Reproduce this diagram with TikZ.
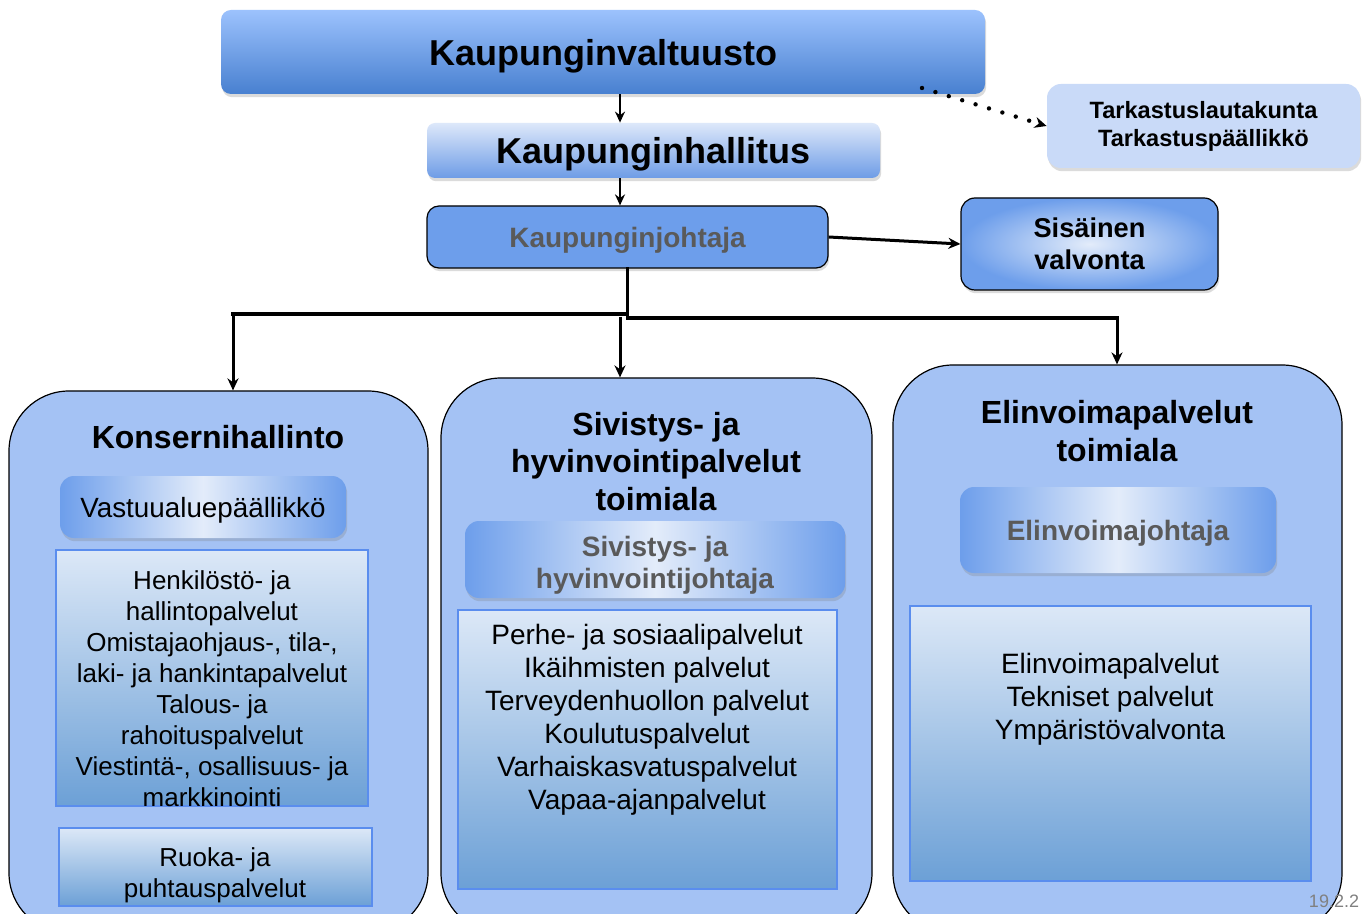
\documentclass[tikz,border=0pt]{standalone}
\usepackage{fontspec}
\setmainfont{Liberation Sans}
\usetikzlibrary{arrows.meta,shadows}
\definecolor{bigfill}{HTML}{A4C2F4}
\definecolor{corn}{HTML}{6D9EEB}
\definecolor{paleblue}{HTML}{E3ECFA}
\definecolor{listtop}{HTML}{DCE8F7}
\definecolor{listbot}{HTML}{6CA0D6}
\definecolor{listedge}{HTML}{5A8DEE}
\definecolor{kvtop}{HTML}{9CC2FD}
\definecolor{kvbot}{HTML}{4880D0}
\definecolor{khtop}{HTML}{DDE8FA}
\definecolor{khbot}{HTML}{6E9CE6}
\definecolor{tkfill}{HTML}{C9DAF8}
\definecolor{graytext}{HTML}{5A5A5A}
\begin{document}
\begin{tikzpicture}[x=0.5pt,y=-0.5pt,
  shad/.style={drop shadow={shadow xshift=0.6pt,shadow yshift=-1.6pt,opacity=0.28}},
  box/.style={inner sep=0pt,align=center},
  bigbox/.style={box,draw=black,line width=0.6pt,fill=bigfill,rounded corners=30pt},
  subbox/.style={box,rounded corners=7pt,left color=corn,right color=corn,middle color=paleblue,shad},
  listbox/.style={box,draw=listedge,line width=0.6pt,top color=listtop,bottom color=listbot},
  conn/.style={line width=1.7pt,line cap=rect},
  arr/.style={line width=1.5pt,-{Stealth[length=6pt,width=5.5pt]}},
  thinarr/.style={line width=1.2pt,-{Stealth[length=5.5pt,width=5pt]}},
  titlefont/.style={font=\bfseries\fontsize{16}{18.75}\selectfont},
  dirfont/.style={font=\bfseries\fontsize{14}{16}\selectfont,text=graytext}
]
\useasboundingbox (0,0) rectangle (1370,914);
\clip (0,0) rectangle (1370,914);
\fill[white] (0,0) rectangle (1370,914);

% top boxes
\node[box,rounded corners=5pt,top color=kvtop,bottom color=kvbot,shad,text depth=0pt,
  minimum width=382pt,minimum height=42pt,font=\bfseries\fontsize{18}{20}\selectfont]
  (kv) at (603,52) {Kaupunginvaltuusto};
\node[box,rounded corners=4pt,top color=khtop,bottom color=khbot,shad,text depth=0pt,
  minimum width=226.5pt,minimum height=27.5pt,font=\bfseries\fontsize{18}{20}\selectfont]
  (kh) at (653.5,150.5) {Kaupunginhallitus};
\node[box,rounded corners=6pt,draw=black,line width=0.6pt,fill=corn,shad,text depth=0pt,
  minimum width=200.5pt,minimum height=31pt,dirfont]
  (kj) at (627.5,237) {Kaupunginjohtaja};
\node[box,rounded corners=7pt,fill=tkfill,shad,
  minimum width=156.5pt,minimum height=42pt,font=\bfseries\fontsize{11.8}{14}\selectfont]
  (tk) at (1203.5,126) {Tarkastuslautakunta\\Tarkastuspäällikkö};
\node[box,rounded corners=7pt,draw=black,line width=0.6pt,inner color=paleblue,outer color=corn,shad,
  minimum width=128.5pt,minimum height=46pt,font=\bfseries\fontsize{13.6}{16}\selectfont]
  (sv) at (1089.5,244) {Sisäinen\\valvonta};

% big boxes
\node[bigbox,minimum width=209.5pt,minimum height=271pt] (L) at (218.5,662) {};
\node[bigbox,minimum width=215.5pt,minimum height=277.5pt] (M) at (656.5,655.5) {};
\node[bigbox,minimum width=224.5pt,minimum height=284pt] (R) at (1117.5,649) {};

% titles
\node[box,titlefont] (Lt) at (218,437) {Konsernihallinto};
\node[box,titlefont] (Mt) at (656,461.5) {Sivistys- ja\\hyvinvointipalvelut\\toimiala};
\node[box,titlefont] (Rt) at (1117,431) {Elinvoimapalvelut\\toimiala};

% director boxes
\node[subbox,minimum width=143pt,minimum height=31pt,text depth=0pt,font=\fontsize{13.9}{16}\selectfont]
  (Ld) at (203,507) {Vastuualuepäällikkö};
\node[subbox,minimum width=190pt,minimum height=38.5pt] (Md) at (655,559.5) {};
\node[box,dirfont] (Mdt) at (655,565) {Sivistys- ja\\hyvinvointijohtaja};
\node[subbox,minimum width=158pt,minimum height=43pt,text depth=0pt,dirfont]
  (Rd) at (1118,530) {Elinvoimajohtaja};

% list boxes
\node[listbox,minimum width=156pt,minimum height=128pt] (Ll) at (212,678) {};
\node[box,font=\fontsize{13}{15.5}\selectfont] (Llt) at (212,689)
  {Henkilöstö- ja\\hallintopalvelut\\Omistajaohjaus-, tila-,\\laki- ja hankintapalvelut\\Talous- ja\\rahoituspalvelut\\Viestintä-, osallisuus- ja\\markkinointi};
\node[listbox,minimum width=156.5pt,minimum height=39pt] (Lr) at (215.5,867) {};
\node[box,font=\fontsize{13}{15.5}\selectfont] (Lrt) at (215,875) {Ruoka- ja\\puhtauspalvelut};

\node[listbox,minimum width=189.5pt,minimum height=139.5pt] (Ml) at (647.5,749.5) {};
\node[box,font=\fontsize{14}{16.5}\selectfont] (Mlt) at (647,719.5)
  {Perhe- ja sosiaalipalvelut\\Ikäihmisten palvelut\\Terveydenhuollon palvelut\\Koulutuspalvelut\\Varhaiskasvatuspalvelut\\Vapaa-ajanpalvelut};

\node[listbox,minimum width=200.5pt,minimum height=137.5pt] (Rl) at (1110.5,743.5) {};
\node[box,font=\fontsize{14}{16.5}\selectfont] (Rlt) at (1110,699)
  {Elinvoimapalvelut\\Tekniset palvelut\\Ympäristövalvonta};

% connectors
\coordinate (jL) at (233,314);
\coordinate (jM) at (620,317);
\coordinate (jR) at (1117,318);
\coordinate (dotstart) at (922,88);

\draw[thinarr] (kv.south -| jM) -- (kh.north -| jM);
\draw[thinarr] (kh.south -| jM) -- (kj.north -| jM);
\draw[arr] (kj.east) -- (sv.west);
\draw[line width=2.2pt,line cap=round,dash pattern=on 0pt off 7pt,-{Stealth[length=6pt,width=5.5pt]}]
  (dotstart) -- (tk.west);

\draw[conn] (kj.south) -- (kj.south |- jR);
\draw[conn] (jL) -- (kj.south |- jL);
\draw[conn] (kj.south |- jR) -- (jR);
\draw[arr] (jL) -- (jL |- L.north);
\draw[arr] (jM) -- (jM |- M.north);
\draw[arr] (jR) -- (jR |- R.north);

\node[box,text=gray,font=\fontsize{9}{10}\selectfont] (ver) at (1334,901) {19.2.2};
\end{tikzpicture}
\end{document}
